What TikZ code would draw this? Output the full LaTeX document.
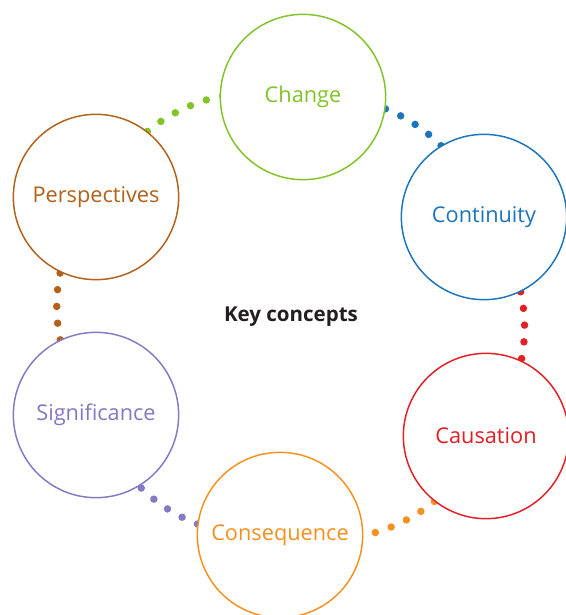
\documentclass[tikz,border=0pt]{standalone}
\usepackage{fontspec}
\setmainfont{Open Sans}
\usetikzlibrary{backgrounds}
\definecolor{clrChange}{RGB}{128,196,40}
\definecolor{clrContinuity}{RGB}{28,117,188}
\definecolor{clrCausation}{RGB}{227,30,36}
\definecolor{clrConsequence}{RGB}{247,144,30}
\definecolor{clrSignificance}{RGB}{134,120,196}
\definecolor{clrPerspectives}{RGB}{180,96,24}
\definecolor{clrKey}{RGB}{35,31,32}

\tikzset{every picture/.style={line width=1.1pt}}
\tikzset{
  concept/.style={circle, draw=#1, text=#1, fill=white, minimum size=124pt, inner sep=0pt, font=\fontsize{16.3}{19}\selectfont},
  dotlink/.style={draw=#1, line width=5.6pt, line cap=round, dash pattern=on 0pt off 12.6pt}
}

\begin{document}
\begin{tikzpicture}[x=0.75pt,y=0.75pt,yscale=-1,xscale=1]
\useasboundingbox (0,0) rectangle (565,615);

% Concept circles
\node [concept=clrChange] (change) at (303,97) {Change};
\node [concept=clrContinuity] (continuity) at (484,217) {Continuity};
\node [concept=clrCausation] (causation) at (486,436) {Causation};
\node [concept=clrConsequence] (consequence) at (280,535) {Consequence};
\node [concept=clrSignificance] (significance) at (96,415) {Significance};
\node [concept=clrPerspectives] (perspectives) at (96,197) {Perspectives};

% Text Node
\node [text=clrKey, font=\fontsize{15.4}{18}\selectfont\bfseries] (key) at (291,317) {Key concepts};

% Dotted links, behind the circles
\begin{scope}[on background layer]
\draw [dotlink=clrChange] (perspectives.center) to[bend right=38] (change.center);
\draw [dotlink=clrContinuity] (change.center) to[bend right=38] (continuity.center);
\draw [dotlink=clrCausation] (continuity.center) to[bend right=38] (causation.center);
\draw [dotlink=clrConsequence] (causation.center) to[bend right=38] (consequence.center);
\draw [dotlink=clrSignificance] (consequence.center) to[bend right=38] (significance.center);
\draw [dotlink=clrPerspectives] (significance.center) to[bend right=38] (perspectives.center);
\end{scope}
\end{tikzpicture}
\end{document}
